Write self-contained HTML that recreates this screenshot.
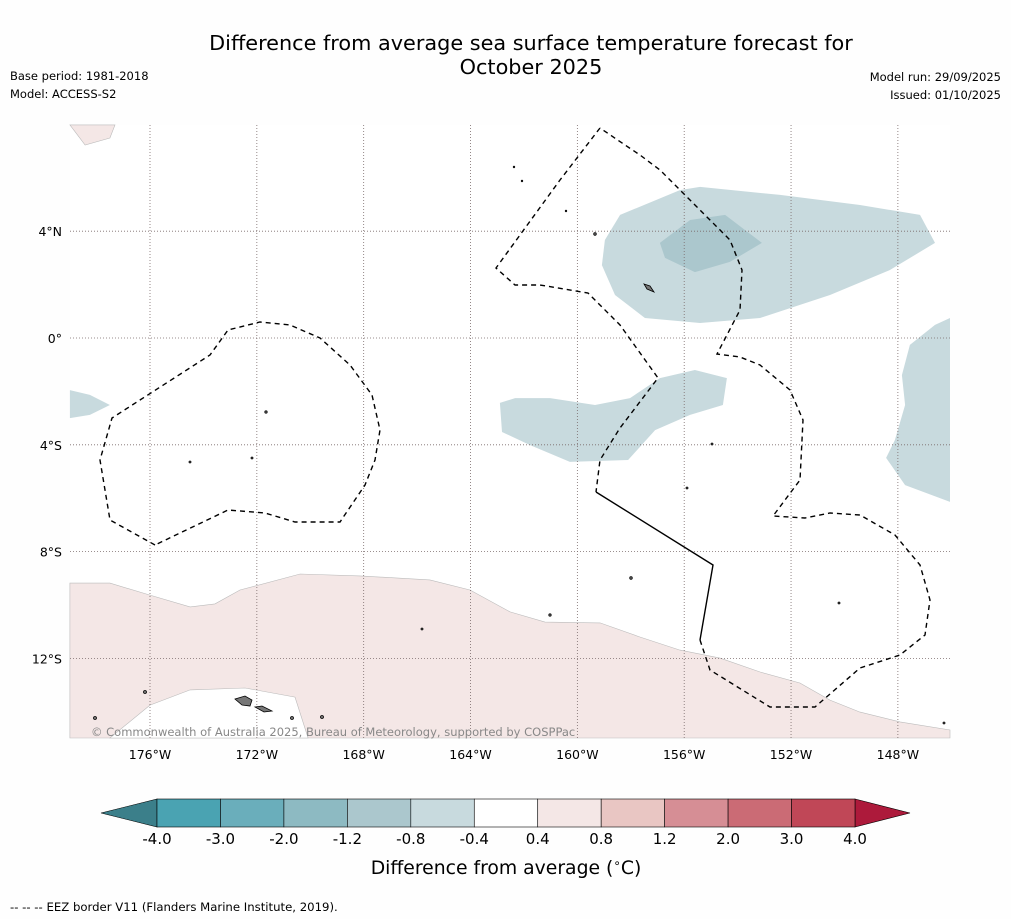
<!DOCTYPE html>
<html><head><meta charset="utf-8"><style>
body{margin:0;background:#fefefe;}
svg{display:block;font-family:"DejaVu Sans","Liberation Sans",sans-serif;}
</style></head><body>
<svg id="chart" width="1011" height="919" viewBox="0 0 1011 919" xmlns="http://www.w3.org/2000/svg">
<rect width="1011" height="919" fill="#fefefe"/>
<text x="531" y="50" font-size="20.8" text-anchor="middle" fill="#000">Difference from average sea surface temperature forecast for</text>
<text x="531" y="74" font-size="20.8" text-anchor="middle" fill="#000">October 2025</text>
<text x="10" y="80" font-size="11.5">Base period: 1981-2018</text>
<text x="10" y="98" font-size="11.5">Model: ACCESS-S2</text>
<text x="1001" y="81" font-size="11.5" text-anchor="end">Model run: 29/09/2025</text>
<text x="1001" y="99" font-size="11.5" text-anchor="end">Issued: 01/10/2025</text>
<rect x="70" y="125" width="880" height="613" fill="#ffffff"/>
<g id="shapes"></g>
<g id="grid"></g>
<path fill="none" stroke="#000" stroke-width="1.4" stroke-dasharray="5,4"
 d="M155,545 L110,520 L100,460 L112,418 L210,355 L228,330 L260,322 L290,325 L320,338 L350,365 L372,395 L380,430 L375,460 L365,485 L340,522 L295,522 L265,513 L228,510 L155,545
 M600,128 L560,180 L520,235 L496,268 L515,285 L540,285 L588,293 L620,325 L658,378 L620,428 L600,460 L596,492
 M700,640 L710,670 L770,707 L815,707 L860,668 L900,655 L925,635 L930,600 L920,565 L895,535 L860,515 L830,513 L805,518 L773,516 L800,480 L803,420 L790,390 L760,365 L740,357 L717,354 L740,310 L742,270 L730,240 L700,210 L680,190 L670,180 L660,170 L640,155 L625,145 L600,128"/>
<path fill="none" stroke="#000" stroke-width="1.4" d="M596,492 L713,565 L700,640"/>
<g fill="#777" stroke="#000" stroke-width="0.8">
<path d="M235,699 L245,696 L252,700 L250,706 L242,705 Z"/>
<path d="M255,707 L262,706 L272,711 L264,712 Z"/>
<path d="M644,284 L650,286 L654,292 L647,289 Z"/>
<circle cx="145" cy="692" r="1.5"/><circle cx="95" cy="718" r="1.5"/><circle cx="292" cy="718" r="1.5"/><circle cx="322" cy="717" r="1.5"/>
<circle cx="595" cy="234" r="1.3"/><circle cx="266" cy="412" r="1.2"/><circle cx="550" cy="615" r="1.2"/><circle cx="631" cy="578" r="1.3"/><circle cx="422" cy="629" r="1"/><circle cx="839" cy="603" r="1"/><circle cx="687" cy="488" r="1"/><circle cx="712" cy="444" r="1"/><circle cx="252" cy="458" r="1"/><circle cx="190" cy="462" r="1"/><circle cx="514" cy="167" r="0.8"/><circle cx="522" cy="181" r="0.8"/><circle cx="566" cy="211" r="0.8"/><circle cx="944" cy="723" r="1"/>
</g>
<text x="91" y="736" font-size="11.5" fill="#888">© Commonwealth of Australia 2025, Bureau of Meteorology, supported by COSPPac</text>
<g id="axis-labels"></g>
<g id="colorbar"></g>
<text x="506" y="874" font-size="18.8" text-anchor="middle">Difference from average (<tspan font-size="12" dy="-7">∘</tspan><tspan dy="7">C)</tspan></text>
<text x="10" y="911" font-size="11.7">--  --  -- EEZ border V11 (Flanders Marine Institute, 2019).</text>
</svg>
<script>
const lonTicks=[-176,-172,-168,-164,-160,-156,-152,-148];
const latTicks=[4,0,-4,-8,-12];
const levels=["-4.0","-3.0","-2.0","-1.2","-0.8","-0.4","0.4","0.8","1.2","2.0","3.0","4.0"];
const levelColors=["#4aa3b2","#6aaebb","#8dbac2","#abc7cd","#c8dade","#ffffff","#f4e7e6","#e9c6c3","#d68e95","#cb6b75","#c04757"];
const northBlob=[[-158.40,4.61],[-156.16,5.54],[-155.41,5.66],[-152.41,5.36],[-149.42,4.98],[-147.17,4.61],[-146.61,3.56],[-148.29,2.55],[-150.54,1.61],[-153.16,0.75],[-155.41,0.56],[-157.47,0.75],[-158.59,1.61],[-159.08,2.73],[-158.97,3.67]];
const northCore=[[-156.91,3.56],[-155.78,4.42],[-154.47,4.61],[-153.09,3.56],[-154.29,2.85],[-155.60,2.47],[-156.72,3.0]];
const midBlob=[[-162.90,-2.43],[-162.33,-2.25],[-161.02,-2.25],[-159.34,-2.51],[-158.03,-2.25],[-156.91,-1.50],[-155.60,-1.20],[-154.40,-1.50],[-154.55,-2.51],[-155.78,-2.88],[-157.09,-3.45],[-158.10,-4.57],[-160.28,-4.64],[-161.77,-4.01],[-162.82,-3.52]];
const eastBlob=[[-146.05,0.75],[-146.61,0.49],[-147.55,-0.26],[-147.85,-1.39],[-147.73,-2.51],[-148.11,-3.82],[-148.44,-4.49],[-147.73,-5.51],[-146.05,-6.14]];
const westBlob=[[-179.0,-1.95],[-178.25,-2.13],[-177.5,-2.51],[-178.25,-2.88],[-179.0,-3.0]];
const southWarm=[[-179.0,-9.18],[-177.5,-9.18],[-176,-9.63],[-174.5,-10.07],[-173.57,-9.96],[-172.63,-9.44],[-170.38,-8.84],[-168.14,-8.91],[-165.52,-9.06],[-164.02,-9.44],[-162.52,-10.26],[-161.21,-10.64],[-159.15,-10.67],[-157.66,-11.20],[-156.16,-11.69],[-154.66,-11.99],[-153.16,-12.51],[-151.67,-12.92],[-150.54,-13.56],[-149.42,-14.01],[-147.92,-14.38],[-146.05,-14.68],[-146.05,-14.98],[-179.0,-14.98]];
const southGap=[[-177.5,-14.98],[-176,-13.75],[-174.5,-13.18],[-172.44,-13.11],[-170.57,-13.45],[-170.08,-14.98]];
const northWarm=[[-179.0,7.98],[-177.31,7.98],[-177.5,7.49],[-178.43,7.23]];

const NS="http://www.w3.org/2000/svg";
const X=lon=>150+(lon+176)*26.71;
const Y=lat=>338-lat*26.7;
function mk(tag,attrs,parent){const e=document.createElementNS(NS,tag);for(const k in attrs)e.setAttribute(k,attrs[k]);parent.appendChild(e);return e;}
const shapes=document.getElementById('shapes');
function poly(pts,fill,stroke,name){
  const e=mk('polygon',{points:pts.map(p=>X(p[0]).toFixed(1)+','+Y(p[1]).toFixed(1)).join(' '),fill:fill,stroke:stroke,'stroke-width':0.6},shapes);
  
  
}
poly(southWarm,levelColors[6],"#bbb","warm-anomaly-south");
poly(southGap,"#ffffff","#bbb","neutral-gap-south");
poly(northWarm,levelColors[6],"#bbb","warm-anomaly-north");
poly(northBlob,levelColors[4],"none","cool-anomaly-north");
poly(northCore,levelColors[3],"none","cool-anomaly-north-core");
poly(midBlob,levelColors[4],"none","cool-anomaly-central");
poly(eastBlob,levelColors[4],"none","cool-anomaly-east");
poly(westBlob,levelColors[4],"none","cool-anomaly-west");

const grid=document.getElementById('grid');
const al=document.getElementById('axis-labels');
lonTicks.forEach(l=>{
  const g=mk('line',{x1:X(l),x2:X(l),y1:125,y2:738,stroke:'#7a6a6a','stroke-width':0.8,'stroke-dasharray':'1,2'},grid);
  
  
  const t=mk('text',{x:X(l),y:759,'font-size':12.5,'text-anchor':'middle'},al);
  t.textContent=Math.abs(l)+'°W';
  
  
});
latTicks.forEach(l=>{
  const g=mk('line',{x1:70,x2:950,y1:Y(l),y2:Y(l),stroke:'#7a6a6a','stroke-width':0.8,'stroke-dasharray':'1,2'},grid);
  
  
  const t=mk('text',{x:62,y:Y(l)+5,'font-size':12.5,'text-anchor':'end'},al);
  t.textContent=l===0?'0°':Math.abs(l)+'°'+(l>0?'N':'S');
  
  
});

const cb=document.getElementById('colorbar');
const cx0=157,cx1=855,cy0=799,cy1=827,n=levelColors.length,w=(cx1-cx0)/n;
const la=mk('polygon',{points:`${cx0},${cy0} ${cx0},${cy1} 101,813`,fill:'#3b7f8a',stroke:'#000','stroke-width':0.6},cb);


const ra=mk('polygon',{points:`${cx1},${cy0} ${cx1},${cy1} 910,813`,fill:'#ad1a3b',stroke:'#000','stroke-width':0.6},cb);


levelColors.forEach((c,i)=>{
  const r=mk('rect',{x:cx0+i*w,y:cy0,width:w,height:cy1-cy0,fill:c,stroke:'#000','stroke-width':0.6},cb);
  
  
});
levels.forEach((s,i)=>{
  const t=mk('text',{x:cx0+i*w,y:844,'font-size':15,'text-anchor':'middle'},cb);
  t.textContent=s;
  
  
});
</script>
</body></html>
